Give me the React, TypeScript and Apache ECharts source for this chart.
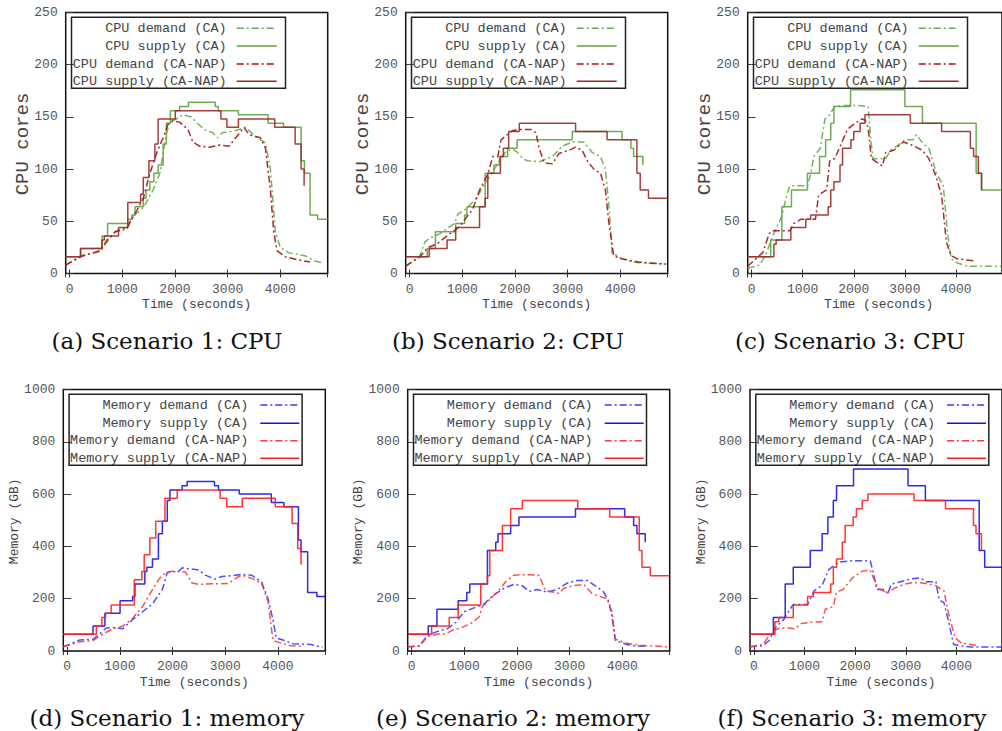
import React, { useEffect, useRef } from "react";
import * as echarts from "echarts";

type Pt = [number, number];

// ---- shared axis ranges ----
const timeMin = -75;
const timeMax = 4900;
const cpuMax = 250;
const cpuStep = 50;
const memMax = 1000;
const memStep = 200;

// ---- series labels ----
const cpuNames = ["CPU demand (CA)", "CPU supply (CA)", "CPU demand (CA-NAP)", "CPU supply (CA-NAP)"];
const memNames = ["Memory demand (CA)", "Memory supply (CA)", "Memory demand (CA-NAP)", "Memory supply (CA-NAP)"];
const captions = [
  "(a) Scenario 1: CPU",
  "(b) Scenario 2: CPU",
  "(c) Scenario 3: CPU",
  "(d) Scenario 1: memory",
  "(e) Scenario 2: memory",
  "(f) Scenario 3: memory",
];

// ---- Scenario 1, CPU (cores); supply values are step levels starting at that time ----
const cpu1DemandCA: Pt[] = [[-75, 8], [207, 17], [583, 21], [708, 30], [865, 40], [1085, 42], [1210, 55], [1398, 63], [1586, 80], [1712, 96], [1837, 134], [1900, 145], [2025, 148], [2150, 152], [2307, 150], [2464, 142], [2590, 137], [2715, 135], [2809, 130], [2903, 135], [3091, 136], [3342, 140], [3530, 131], [3718, 125], [3812, 100], [3844, 80], [3906, 40], [4000, 25], [4157, 20], [4470, 17], [4658, 12], [4815, 10]];
const cpu1SupplyCA: Pt[] = [[-75, 16], [207, 24], [614, 36], [721, 48], [1104, 52], [1180, 56], [1241, 64], [1398, 72], [1450, 80], [1524, 88], [1600, 96], [1680, 104], [1775, 124], [1837, 144], [1912, 156], [2088, 160], [2257, 164], [2765, 160], [2821, 156], [3204, 152], [3768, 144], [4063, 140], [4395, 108], [4458, 96], [4565, 56], [4709, 52], [4900, 52]];
const cpu1DemandNAP: Pt[] = [[-75, 8], [207, 16], [583, 22], [708, 32], [865, 40], [1085, 44], [1273, 60], [1398, 72], [1524, 96], [1649, 115], [1774, 130], [1868, 143], [1962, 146], [2088, 145], [2245, 138], [2339, 126], [2464, 122], [2652, 121], [2840, 123], [3028, 122], [3154, 130], [3310, 140], [3405, 133], [3624, 130], [3718, 120], [3812, 80], [3875, 40], [3938, 22], [4094, 16], [4345, 13], [4565, 11]];
const cpu1SupplyNAP: Pt[] = [[-75, 16], [207, 24], [614, 32], [658, 36], [928, 44], [1104, 68], [1348, 76], [1398, 92], [1505, 108], [1618, 124], [1680, 148], [2006, 156], [2872, 148], [2985, 140], [3204, 148], [3894, 140], [4282, 124], [4395, 100], [4452, 84]];

// ---- Scenario 2, CPU ----
const cpu2DemandCA: Pt[] = [[-75, 7], [195, 17], [289, 30], [384, 34], [572, 38], [855, 48], [918, 57], [1075, 62], [1264, 72], [1453, 88], [1547, 95], [1705, 108], [1830, 117], [1956, 119], [2050, 116], [2145, 110], [2239, 108], [2459, 107], [2711, 112], [2900, 122], [3088, 126], [3309, 126], [3466, 116], [3623, 112], [3717, 100], [3793, 60], [3843, 20], [4032, 14], [4221, 11], [4472, 10], [4868, 9]];
const cpu2SupplyCA: Pt[] = [[-75, 16], [333, 24], [490, 40], [874, 48], [1044, 56], [1088, 64], [1434, 96], [1600, 104], [1705, 112], [1860, 120], [2040, 128], [3088, 136], [4032, 128], [4202, 120], [4252, 112], [4428, 104]];
const cpu2DemandNAP: Pt[] = [[-75, 7], [195, 16], [352, 25], [510, 28], [761, 38], [950, 45], [1201, 62], [1327, 80], [1484, 95], [1579, 112], [1673, 112], [1736, 128], [1830, 132], [1956, 137], [2113, 138], [2302, 138], [2396, 135], [2459, 120], [2554, 106], [2711, 105], [2837, 115], [3025, 118], [3151, 121], [3277, 118], [3371, 108], [3497, 100], [3623, 96], [3717, 80], [3780, 50], [3874, 17], [4032, 14], [4346, 11], [4868, 9]];
const cpu2SupplyNAP: Pt[] = [[-75, 16], [371, 24], [711, 32], [874, 44], [1327, 64], [1434, 72], [1484, 96], [1723, 112], [1780, 120], [1880, 136], [2082, 144], [3151, 136], [3749, 128], [4315, 96], [4378, 80], [4535, 72], [4900, 72]];

// ---- Scenario 3, CPU ----
const cpu3DemandCA: Pt[] = [[-75, 5], [156, 8], [281, 18], [406, 35], [500, 45], [594, 55], [687, 75], [750, 84], [1094, 84], [1156, 95], [1219, 112], [1344, 120], [1437, 148], [1531, 152], [1625, 160], [1844, 161], [2094, 161], [2281, 160], [2331, 130], [2375, 110], [2531, 110], [2625, 110], [2719, 118], [2844, 122], [3000, 128], [3156, 128], [3231, 133], [3344, 125], [3469, 120], [3625, 95], [3750, 85], [3831, 40], [3906, 14], [4031, 10], [4219, 7], [4900, 7]];
const cpu3SupplyCA: Pt[] = [[-75, 16], [375, 32], [594, 64], [781, 80], [1094, 96], [1331, 112], [1450, 128], [1550, 144], [1612, 160], [1937, 176], [3000, 160], [3344, 144], [4394, 96], [4500, 80], [4900, 80]];
const cpu3DemandNAP: Pt[] = [[-75, 7], [219, 20], [344, 38], [406, 41], [750, 41], [831, 48], [969, 52], [1250, 52], [1312, 75], [1469, 80], [1531, 108], [1625, 110], [1719, 120], [1875, 138], [2031, 144], [2156, 148], [2219, 147], [2281, 140], [2344, 110], [2469, 106], [2562, 103], [2625, 116], [2781, 118], [2969, 126], [3094, 124], [3344, 118], [3469, 110], [3594, 95], [3719, 75], [3812, 30], [3906, 17], [4031, 14], [4375, 12]];
const cpu3SupplyNAP: Pt[] = [[-75, 16], [437, 28], [481, 32], [769, 44], [1062, 52], [1156, 56], [1500, 64], [1550, 80], [1612, 88], [1731, 104], [1781, 120], [1944, 128], [2000, 136], [2125, 144], [2219, 152], [3106, 144], [3719, 136], [4281, 120], [4344, 112], [4437, 96], [4500, 80]];

// ---- Scenario 1, memory (GB) ----
const mem1DemandCA: Pt[] = [[-75, 16], [238, 42], [489, 45], [614, 65], [740, 88], [865, 90], [1053, 85], [1241, 120], [1430, 150], [1618, 180], [1806, 235], [1900, 300], [2119, 305], [2182, 318], [2496, 310], [2621, 290], [2809, 275], [2934, 285], [3122, 288], [3311, 293], [3499, 290], [3687, 265], [3812, 200], [3906, 120], [3969, 50], [4126, 40], [4282, 28], [4627, 25], [4847, 14]];
const mem1SupplyCA: Pt[] = [[-75, 64], [489, 96], [715, 144], [1003, 192], [1241, 208], [1285, 256], [1473, 304], [1511, 320], [1618, 352], [1731, 448], [1806, 496], [1900, 576], [1950, 616], [2182, 632], [2276, 648], [2796, 632], [2872, 616], [3267, 600], [3875, 568], [4113, 552], [4389, 424], [4439, 380], [4565, 224], [4740, 208], [4900, 208]];
const mem1DemandNAP: Pt[] = [[-75, 16], [238, 35], [489, 40], [677, 65], [865, 85], [1053, 95], [1241, 125], [1430, 170], [1618, 235], [1743, 275], [1868, 300], [1994, 305], [2245, 302], [2370, 260], [2496, 255], [2809, 257], [3060, 258], [3216, 280], [3311, 290], [3499, 278], [3687, 260], [3812, 190], [3906, 40], [4063, 30], [4251, 20], [4439, 18]];
const mem1SupplyNAP: Pt[] = [[-75, 64], [552, 96], [658, 128], [727, 144], [834, 176], [1273, 272], [1417, 304], [1461, 368], [1568, 432], [1680, 496], [1856, 584], [2088, 616], [2903, 584], [3028, 552], [3323, 584], [3950, 552], [4270, 488], [4376, 392], [4439, 330]];

// ---- Scenario 2, memory ----
const mem2DemandCA: Pt[] = [[-75, 16], [145, 20], [303, 60], [492, 75], [681, 85], [839, 110], [997, 150], [1186, 165], [1376, 180], [1533, 210], [1754, 240], [1943, 255], [2101, 250], [2227, 228], [2385, 235], [2575, 225], [2764, 235], [2953, 260], [3142, 270], [3332, 270], [3521, 245], [3647, 225], [3742, 190], [3805, 130], [3868, 40], [4089, 25], [4215, 20], [4468, 18]];
const mem2SupplyCA: Pt[] = [[-75, 64], [315, 96], [480, 160], [883, 192], [1047, 224], [1104, 256], [1439, 384], [1596, 416], [1640, 448], [1880, 480], [2038, 512], [3111, 544], [4045, 512], [4215, 480], [4278, 448], [4436, 416]];
const mem2DemandNAP: Pt[] = [[-75, 16], [145, 18], [303, 55], [492, 65], [650, 65], [776, 80], [934, 88], [1123, 105], [1281, 130], [1344, 170], [1502, 200], [1596, 220], [1691, 240], [1786, 265], [1943, 290], [2101, 292], [2417, 290], [2543, 230], [2701, 225], [2795, 220], [2890, 240], [3079, 250], [3268, 255], [3426, 220], [3553, 210], [3710, 200], [3805, 150], [3868, 45], [4089, 30], [4341, 22], [4878, 16]];
const mem2SupplyNAP: Pt[] = [[-75, 64], [379, 96], [713, 128], [883, 176], [1312, 256], [1439, 288], [1483, 384], [1723, 480], [1880, 544], [2101, 576], [3155, 544], [3761, 512], [4322, 384], [4373, 320], [4531, 288], [4900, 288]];

// ---- Scenario 3, memory ----
const mem3DemandCA: Pt[] = [[-75, 16], [177, 20], [304, 40], [430, 90], [589, 120], [684, 150], [779, 178], [1063, 178], [1190, 230], [1348, 250], [1475, 310], [1570, 325], [1697, 340], [1950, 345], [2298, 345], [2361, 300], [2424, 235], [2582, 235], [2646, 218], [2709, 255], [2899, 265], [3089, 275], [3279, 280], [3406, 265], [3595, 265], [3659, 195], [3754, 185], [3849, 110], [3944, 25], [4102, 20], [4292, 15], [4900, 15]];
const mem3SupplyCA: Pt[] = [[-75, 64], [386, 128], [620, 256], [779, 320], [1114, 384], [1348, 448], [1462, 512], [1570, 576], [1633, 632], [1969, 696], [3045, 632], [3387, 576], [4450, 384], [4558, 320], [4900, 320]];
const mem3DemandNAP: Pt[] = [[-75, 16], [177, 25], [367, 75], [494, 87], [684, 88], [810, 85], [937, 105], [1127, 110], [1348, 112], [1411, 160], [1570, 170], [1633, 225], [1760, 235], [1950, 280], [2140, 305], [2298, 310], [2361, 280], [2456, 240], [2646, 222], [2772, 240], [2962, 255], [3152, 262], [3342, 260], [3595, 250], [3754, 230], [3849, 140], [3975, 50], [4102, 30], [4387, 22]];
const mem3SupplyNAP: Pt[] = [[-75, 64], [418, 112], [494, 128], [779, 176], [1063, 208], [1177, 224], [1519, 256], [1570, 320], [1633, 352], [1747, 416], [1804, 480], [1962, 512], [2026, 544], [2140, 576], [2253, 600], [3165, 576], [3785, 544], [4336, 480], [4387, 448], [4494, 384]];

// ---- styling ----
const MONO = "'Liberation Mono', 'DejaVu Sans Mono', monospace";
const SERIF = "'DejaVu Serif', 'Liberation Serif', serif";
const DASH_DOT = [7, 3, 2, 3];
const cpuColors = ["#6aaa4c", "#5fa23f", "#a3121a", "#9a2a2a"];
const memColors = ["#3a3aff", "#1414e6", "#ff3c3c", "#ff1e1e"];
const PLOT_W = 262;

interface Panel {
  left: number;
  top: number;
  height: number;
  cpu: boolean;
  data: Pt[][];
  caption: string;
  capX: number;
  capY: number;
}

const panels: Panel[] = [
  { left: 65.7, top: 12.5, height: 261, cpu: true, data: [cpu1DemandCA, cpu1SupplyCA, cpu1DemandNAP, cpu1SupplyNAP], caption: captions[0], capX: 167, capY: 341 },
  { left: 405.7, top: 12.5, height: 261, cpu: true, data: [cpu2DemandCA, cpu2SupplyCA, cpu2DemandNAP, cpu2SupplyNAP], caption: captions[1], capX: 508, capY: 341 },
  { left: 747.7, top: 12.5, height: 261, cpu: true, data: [cpu3DemandCA, cpu3SupplyCA, cpu3DemandNAP, cpu3SupplyNAP], caption: captions[2], capX: 850, capY: 341 },
  { left: 63.3, top: 389.5, height: 261.5, cpu: false, data: [mem1DemandCA, mem1SupplyCA, mem1DemandNAP, mem1SupplyNAP], caption: captions[3], capX: 167, capY: 718 },
  { left: 407.7, top: 389.5, height: 261.5, cpu: false, data: [mem2DemandCA, mem2SupplyCA, mem2DemandNAP, mem2SupplyNAP], caption: captions[4], capX: 513, capY: 718 },
  { left: 750, top: 389.5, height: 261.5, cpu: false, data: [mem3DemandCA, mem3SupplyCA, mem3DemandNAP, mem3SupplyNAP], caption: captions[5], capX: 852, capY: 718 },
];

const plainNumber = (v: number) => String(v);

function buildOption() {
  const grid: any[] = [];
  const xAxis: any[] = [];
  const yAxis: any[] = [];
  const series: any[] = [];
  const graphic: any[] = [];

  const tick = { show: true, inside: true, length: 4, lineStyle: { color: "#333", width: 1 } };
  const tickLabel = { fontFamily: MONO, fontSize: 13, color: "#555", formatter: plainNumber };

  panels.forEach((p, i) => {
    const names = p.cpu ? cpuNames : memNames;
    const colors = p.cpu ? cpuColors : memColors;

    grid.push({
      left: p.left,
      top: p.top,
      width: PLOT_W,
      height: p.height,
      show: true,
      borderColor: "#111",
      borderWidth: 1.5,
      backgroundColor: "transparent",
    });

    const xBase = { gridIndex: i, type: "value", min: timeMin, max: timeMax, splitNumber: 5, axisLine: { show: false }, axisTick: tick, splitLine: { show: false } };
    xAxis.push({ ...xBase, position: "bottom", axisLabel: { ...tickLabel, margin: 9, showMinLabel: false, showMaxLabel: false } });
    xAxis.push({ ...xBase, position: "top", axisLabel: { show: false } });

    const yBase = { gridIndex: i, type: "value", min: 0, max: p.cpu ? cpuMax : memMax, interval: p.cpu ? cpuStep : memStep, axisLine: { show: false }, axisTick: tick, splitLine: { show: false } };
    yAxis.push({ ...yBase, position: "left", axisLabel: { ...tickLabel, margin: 8 } });
    yAxis.push({ ...yBase, position: "right", axisLabel: { show: false } });

    p.data.forEach((d, k) => {
      const demand = k % 2 === 0;
      series.push({
        type: "line",
        name: names[k],
        xAxisIndex: 2 * i,
        yAxisIndex: 2 * i,
        data: d,
        symbol: "none",
        showSymbol: false,
        step: demand ? false : "end",
        silent: true,
        z: 2 + k,
        lineStyle: { color: colors[k], width: 1.5, type: demand ? DASH_DOT : "solid", opacity: 0.9 },
      });
    });

    // axis titles
    const cx = p.left + PLOT_W / 2;
    const cy = p.top + p.height / 2;
    graphic.push({
      type: "text",
      x: p.cpu ? p.left - 42.3 : p.left - 49,
      y: cy + 1,
      rotation: Math.PI / 2,
      style: {
        text: p.cpu ? "CPU cores" : "Memory (GB)",
        font: `${p.cpu ? 19 : 13}px ${MONO}`,
        fill: "#444",
        align: "center",
        verticalAlign: "middle",
      },
    });
    graphic.push({
      type: "text",
      x: cx,
      y: p.top + p.height + 31,
      style: { text: "Time (seconds)", font: `13px ${MONO}`, fill: "#444", align: "center", verticalAlign: "middle" },
    });

    // key box
    const lg = p.cpu
      ? { bx: 5.8, bw: 214, textR: 161, l1: 171, l2: 211, rows: [15.8, 33.5, 51.5, 68.8] }
      : { bx: 5.8, bw: 233, textR: 185, l1: 197, l2: 236, rows: [15.5, 33.8, 51.2, 68.8] };
    graphic.push({
      type: "rect",
      shape: { x: p.left + lg.bx, y: p.top + 4.8, width: lg.bw, height: 71 },
      style: { fill: "none", stroke: "#222", lineWidth: 1.5 },
      z: 10,
    });
    names.forEach((nm, k) => {
      const ry = p.top + lg.rows[k];
      graphic.push({
        type: "text",
        x: p.left + lg.textR,
        y: ry,
        z: 10,
        style: { text: nm, font: `13.5px ${MONO}`, fill: "#444", align: "right", verticalAlign: "middle" },
      });
      graphic.push({
        type: "line",
        z: 10,
        shape: { x1: p.left + lg.l1, y1: ry, x2: p.left + lg.l2, y2: ry },
        style: { stroke: colors[k], lineWidth: 1.5, lineDash: k % 2 === 0 ? DASH_DOT : null },
      });
    });

    // sub-figure caption
    graphic.push({
      type: "text",
      x: p.capX,
      y: p.capY,
      style: { text: p.caption, font: `23px ${SERIF}`, fill: "#111", align: "center", verticalAlign: "middle" },
    });
  });

  return {
    animation: false,
    backgroundColor: "#ffffff",
    grid,
    xAxis,
    yAxis,
    series,
    graphic,
  };
}

export default function App() {
  const ref = useRef<HTMLDivElement | null>(null);

  useEffect(() => {
    if (!ref.current) return;
    const chart = echarts.init(ref.current, undefined, { renderer: "svg" });
    chart.setOption(buildOption() as any);
    return () => chart.dispose();
  }, []);

  return (
    <div
      ref={ref}
      style={{ position: "fixed", left: 0, top: 0, width: 1002, height: 731, background: "#fff" }}
    />
  );
}
